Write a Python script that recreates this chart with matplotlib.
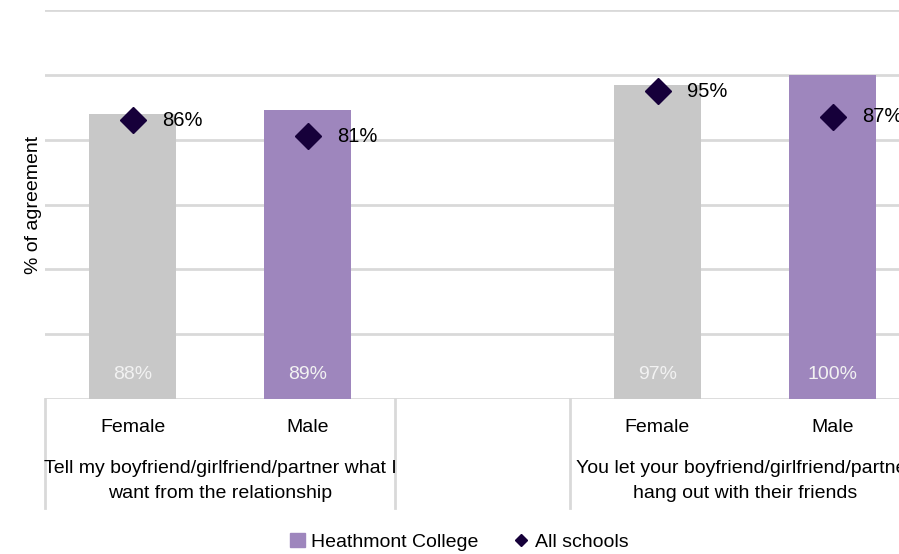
import matplotlib.pyplot as plt
from matplotlib.patches import Patch
from matplotlib.lines import Line2D

plt.rcParams['font.family'] = ['Liberation Sans Narrow', 'Liberation Sans', 'DejaVu Sans']

# survey results, % agreeing
genders = ['Female', 'Male', '', 'Female', 'Male']
questions = ['Tell my boyfriend/girlfriend/partner what I\nwant from the relationship',
             'You let your boyfriend/girlfriend/partner\nhang out with their friends']
college = [88, 89, None, 97, 100]
all_schools = [86, 81, None, 95, 87]

bar_colors = ['#c8c8c8', '#9e86bd', None, '#c8c8c8', '#9e86bd']
diamond = '#16003a'
grid = '#d9d9d9'

fig = plt.figure(figsize=(8.99, 5.54), dpi=100)
# axes runs a little past the right edge of the figure
ax = fig.add_axes([45/899, 1-399/554, 875/899, 389/554])

for i, v in enumerate(college):
    if v is None:
        continue
    ax.bar(i, v, width=0.5, color=bar_colors[i], zorder=2)
    ax.text(i, 7.5, f'{v}%', ha='center', va='center', color='#f2f2f2', fontsize=14, zorder=3)

for i, v in enumerate(all_schools):
    if v is None:
        continue
    ax.plot(i, v, marker='D', ms=13.5, color=diamond, ls='none', zorder=4)
    ax.text(i + 0.17, v, f'{v}%', ha='left', va='center', fontsize=14.5, color='black', zorder=4)

ax.set_xlim(-0.5, 4.5)
ax.set_ylim(0, 120)
ax.set_yticks(range(0, 121, 20))
ax.yaxis.grid(True, color=grid, lw=2, zorder=0)
ax.tick_params(left=False, labelleft=False, bottom=False, labelbottom=False)
for s in ax.spines.values():
    s.set_visible(False)
ax.set_ylabel('% of agreement', fontsize=14, labelpad=2)

# category axis drawn by hand
trans = ax.get_xaxis_transform()
low = -109/389
for x in [-0.5, 1.5, 2.5]:
    ax.plot([x, x], [0, low], color=grid, lw=2, transform=trans, clip_on=False)
for i, g in enumerate(genders):
    ax.text(i, -28/389, g, ha='center', va='center', fontsize=14, transform=trans)
ax.text(0.5, -82/389, questions[0], ha='center', va='center', fontsize=14,
        transform=trans, linespacing=1.55)
ax.text(3.5, -82/389, questions[1], ha='center', va='center', fontsize=14,
        transform=trans, linespacing=1.55)

handles = [Patch(color='#9e86bd', label='Heathmont College'),
           Line2D([], [], marker='D', color=diamond, ls='none', ms=6, label='All schools')]
fig.legend(handles=handles, loc='center', bbox_to_anchor=(459/899, 1-542/554), ncol=2,
           frameon=False, fontsize=14, handlelength=0.8, handletextpad=0.3, columnspacing=1.8)

fig.savefig('out.png', dpi=100)
